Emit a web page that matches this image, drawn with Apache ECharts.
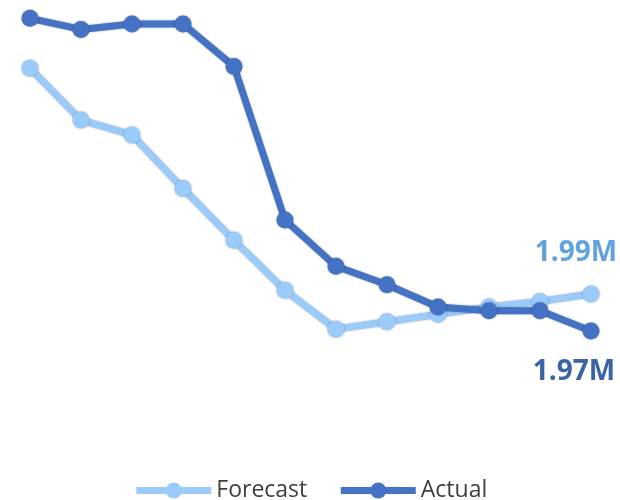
<!DOCTYPE html>
<html>
<head>
<meta charset="utf-8">
<script src="https://cdn.jsdelivr.net/npm/echarts@6/dist/echarts.min.js"></script>
<style>
  html, body { margin: 0; padding: 0; background: #fff; }
  #chart { width: 620px; height: 500px; }
</style>
</head>
<body>
<div id="chart"></div>
<script>
// Monthly periods (not shown as axis labels)
const periods = ['P1','P2','P3','P4','P5','P6','P7','P8','P9','P10','P11','P12'];

// Forecast vs actual values
const forecastValues = [2112000, 2084000, 2076000, 2047000, 2019000, 1992000, 1971000, 1975000, 1979000, 1983000, 1986000, 1990000];
const actualValues   = [2139000, 2133000, 2136000, 2136000, 2113000, 2030000, 2005000, 1995000, 1983000, 1981000, 1981000, 1970000];

const seriesNames = ['Forecast', 'Actual'];

const fmtM = v => (v / 1e6).toFixed(2) + 'M';

// Attach a value label to the final point only
function withEndLabel(values, labelCfg) {
  return values.map((v, i) => i === values.length - 1
    ? { value: v, label: Object.assign({ show: true, formatter: p => fmtM(p.value) }, labelCfg) }
    : v);
}

const chart = echarts.init(document.getElementById('chart'), null, { renderer: 'canvas' });

const lineShadow = { shadowColor: 'rgba(0,0,0,0.35)', shadowBlur: 2 };

chart.setOption({
  animation: false,
  backgroundColor: '#ffffff',
  grid: { left: 30, right: 29, top: 16.5, bottom: 39.5 },
  xAxis: {
    type: 'category',
    data: periods,
    boundaryGap: false,
    show: false
  },
  yAxis: {
    type: 'value',
    min: 1900000,
    max: 2140000,
    show: false
  },
  legend: {
    data: seriesNames,
    top: 474,
    left: 'center',
    itemWidth: 75,
    itemHeight: 20,
    itemGap: 30,
    lineStyle: { width: 7 },
    textStyle: { fontFamily: 'Open Sans', fontSize: 23, color: '#404040' }
  },
  series: [
    {
      name: seriesNames[0],
      type: 'line',
      data: withEndLabel(forecastValues, {
        position: 'top', offset: [-15, -13],
        fontFamily: 'Open Sans', fontWeight: 'bold', fontSize: 28, color: '#62A3DE'
      }),
      symbol: 'circle',
      symbolSize: 17,
      color: '#9ACBFB',
      lineStyle: Object.assign({ width: 7, color: '#9ACBFB' }, lineShadow),
      itemStyle: Object.assign({ color: '#9ACBFB' }, lineShadow)
    },
    {
      name: seriesNames[1],
      type: 'line',
      data: withEndLabel(actualValues, {
        position: 'bottom', offset: [-17, 14],
        fontFamily: 'Open Sans', fontWeight: 'bold', fontSize: 28, color: '#3A63A8'
      }),
      symbol: 'circle',
      symbolSize: 17,
      color: '#4472C4',
      lineStyle: Object.assign({ width: 7, color: '#4472C4' }, lineShadow),
      itemStyle: Object.assign({ color: '#4472C4' }, lineShadow)
    }
  ]
});
</script>
</body>
</html>
